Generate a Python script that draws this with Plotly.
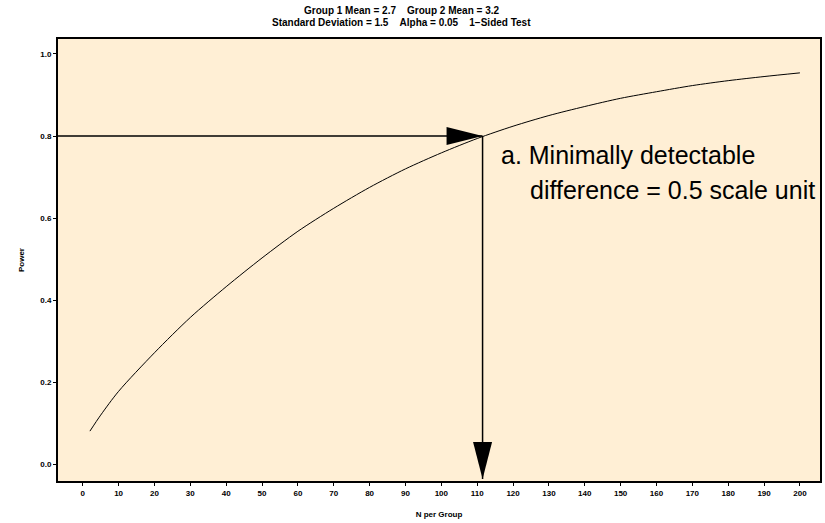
import plotly.graph_objects as go

# Power curve for a two-group comparison (N per group vs power)
n_per_group = [2, 5, 10, 20, 30, 40, 50, 60, 70, 80, 90, 100, 110, 120,
               130, 140, 150, 160, 170, 180, 190, 200]
power = [0.081, 0.120, 0.178, 0.272, 0.358, 0.433, 0.503, 0.568, 0.624,
         0.675, 0.720, 0.759, 0.794, 0.824, 0.850, 0.872, 0.892, 0.908,
         0.923, 0.935, 0.945, 0.954]

target_power = 0.8
target_n = 111.5

x_ticks = list(range(0, 201, 10))
y_ticks = [0.0, 0.2, 0.4, 0.6, 0.8, 1.0]

x_range = [-6.9, 205.6]
y_range = [-0.0405, 1.0365]

note_lines = ["a. Minimally detectable", "difference = 0.5 scale unit"]

NB = "\u00a0"
title_lines = [
    f"Group 1 Mean = 2.7{NB*4}Group 2 Mean = 3.2",
    f"Standard Deviation = 1.5{NB*4}Alpha = 0.05{NB*4}1\u2212Sided Test",
]

FONT = "Liberation Sans, Arial, Helvetica, sans-serif"

fig = go.Figure()
fig.add_trace(go.Scatter(
    x=n_per_group, y=power, mode="lines",
    line=dict(color="black", width=1, shape="spline", smoothing=0.8),
    hoverinfo="x+y", showlegend=False,
))

# Reference lines at the target power
fig.add_shape(type="line", xref="x", yref="y",
              x0=x_range[0], y0=target_power, x1=target_n, y1=target_power,
              line=dict(color="black", width=1.5))
fig.add_shape(type="line", xref="x", yref="y",
              x0=target_n, y0=target_power, x1=target_n, y1=y_range[0] + 0.005,
              line=dict(color="black", width=1.5))

# Filled arrowheads (pixel-sized, anchored at data points)
fig.add_shape(type="path", xref="x", yref="y",
              xsizemode="pixel", ysizemode="pixel",
              xanchor=target_n, yanchor=target_power,
              path="M0,0 L-36,-9 L-36,9 Z",
              fillcolor="black", line=dict(color="black", width=0))
fig.add_shape(type="path", xref="x", yref="y",
              xsizemode="pixel", ysizemode="pixel",
              xanchor=target_n, yanchor=y_range[0] + 0.005,
              path="M0,0 L-9.5,37 L9.5,37 Z",
              fillcolor="black", line=dict(color="black", width=0))

fig.add_annotation(x=116.2, y=0.753, xref="x", yref="y",
                   text=note_lines[0], showarrow=False,
                   xanchor="left", yanchor="middle",
                   font=dict(family=FONT, size=25, color="black"))
fig.add_annotation(x=124.3, y=0.668, xref="x", yref="y",
                   text=note_lines[1], showarrow=False,
                   xanchor="left", yanchor="middle",
                   font=dict(family=FONT, size=25, color="black"))

# Two-line heading above the plot area
for line_text, shift in zip(title_lines, [29, 17]):
    fig.add_annotation(x=0.442, y=1, xref="paper", yref="paper",
                       text=line_text, showarrow=False, xshift=7,
                       xanchor="center", yanchor="middle", yshift=shift,
                       font=dict(family=FONT, size=10, color="black", weight="bold"))

axis_common = dict(
    showgrid=False, zeroline=False,
    showline=True, linecolor="black", linewidth=2, mirror=True,
    ticks="outside", ticklen=3, tickwidth=1, tickcolor="black",
    tickfont=dict(family=FONT, size=8, color="black", weight="bold"),
)

fig.update_layout(
    width=825, height=523,
    margin=dict(l=58, r=3, t=39, b=42),
    paper_bgcolor="white",
    plot_bgcolor="#FFEFD5",
    xaxis=dict(range=x_range, tickvals=x_ticks,
               title=dict(text="N per Group", standoff=15,
                          font=dict(family=FONT, size=8, color="black", weight="bold")),
               **axis_common),
    yaxis=dict(range=y_range, tickvals=y_ticks, tickformat=".1f",
               title=dict(text="Power", standoff=14,
                          font=dict(family=FONT, size=8, color="black", weight="bold")),
               **axis_common),
)

fig.write_html("out.html")
